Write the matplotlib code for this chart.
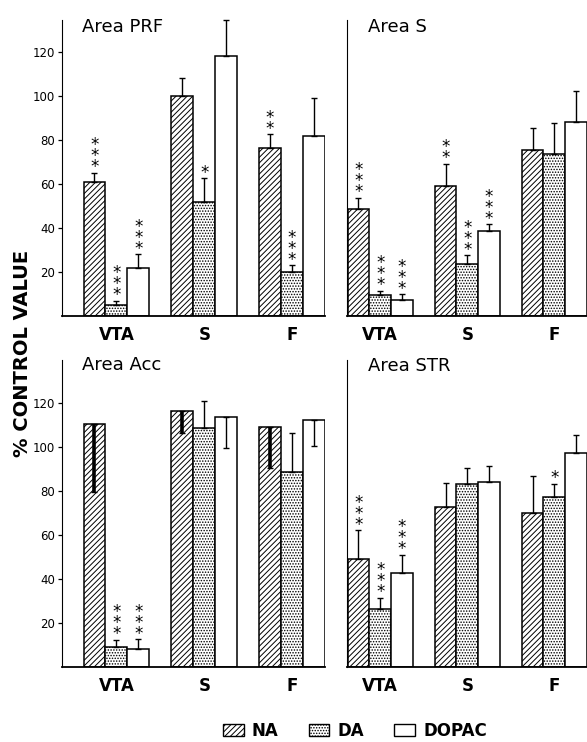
import numpy as np
import matplotlib
matplotlib.use('Agg')
import matplotlib.pyplot as plt
from matplotlib.patches import Patch

# donnees (% de la valeur controle)
groups = ['VTA', 'S', 'F']
series = ['NA', 'DA', 'DOPAC']

prf_na = [61, 100, 76.5]
prf_da = [5, 52, 20]
prf_dopac = [22, 118, 82]
prf_err_na = [4, 8, 6]
prf_err_da = [2, 10.5, 3]
prf_err_dopac = [6, 16.5, 17]
prf_stars_na = [3, 0, 2]
prf_stars_da = [3, 1, 3]
prf_stars_dopac = [3, 0, 0]

s_na = [48.6, 59.2, 75.5]
s_da = [9.5, 23.5, 73.6]
s_dopac = [7.3, 38.6, 88.3]
s_err_na = [5, 10, 10]
s_err_da = [2, 4, 14]
s_err_dopac = [2.5, 3, 14]
s_stars_na = [3, 2, 0]
s_stars_da = [3, 3, 0]
s_stars_dopac = [3, 3, 0]

# erreur negative = barre d'erreur dessinee vers le bas
acc_na = [110.6, 116.5, 109.4]
acc_da = [9.1, 108.9, 88.6]
acc_dopac = [8.2, 113.9, 112.4]
acc_err_na = [-31, -10, -19]
acc_err_da = [3.3, 12, 18]
acc_err_dopac = [4.5, -14, -12]
acc_stars_na = [0, 0, 0]
acc_stars_da = [3, 0, 0]
acc_stars_dopac = [3, 0, 0]

str_na = [49.2, 73, 70]
str_da = [26.5, 83.2, 77.5]
str_dopac = [43, 84.4, 97.5]
str_err_na = [13, 11, 17]
str_err_da = [5, 7.5, 6]
str_err_dopac = [8, 7, 8]
str_stars_na = [3, 0, 0]
str_stars_da = [3, 0, 1]
str_stars_dopac = [3, 0, 0]

yticks = [20, 40, 60, 80, 100, 120]

plt.rcParams['hatch.linewidth'] = 0.7
plt.rcParams['font.family'] = 'DejaVu Sans'

W, H = 587, 742
styles = [dict(facecolor='white', hatch='//////'),
          dict(facecolor='white', hatch='......'),
          dict(facecolor='white', hatch=None)]


def draw_panel(ax, values, errors, stars, xlim, ylim, show_ticks):
    x = np.arange(len(groups))
    width = 0.25
    for i in range(3):
        pos = x + (i - 1) * width
        ax.bar(pos, values[i], width, edgecolor='black', linewidth=1.1,
               **styles[i])
        for p, v, e, n in zip(pos, values[i], errors[i], stars[i]):
            if e >= 0:
                yerr = [[0], [e]]
                lw = 1.0
            else:
                yerr = [[-e], [0]]
                lw = 2.6 if i == 0 else 1.0
            ax.errorbar(p, v, yerr=yerr, fmt='none', ecolor='black',
                        elinewidth=lw, capsize=2.5, capthick=1.0,
                        clip_on=False)
            top = v + max(e, 0)
            if n > 0:
                # etoiles empilees verticalement (un seul texte)
                ax.text(p, top - 1.5, '\n'.join(['*'] * n), ha='center',
                        va='bottom', fontsize=12, linespacing=0.5)
    ax.set_xlim(xlim)
    ax.set_ylim(ylim)
    ax.set_xticks(x)
    ax.set_xticklabels(groups, fontsize=12, fontweight='bold')
    ax.tick_params(axis='x', length=0, pad=7)
    ax.spines['top'].set_visible(False)
    ax.spines['right'].set_visible(False)
    ax.spines['left'].set_linewidth(0.8)
    ax.spines['bottom'].set_linewidth(1.3)
    if show_ticks:
        ax.set_yticks(yticks)
        ax.set_yticklabels([str(t) for t in yticks], fontsize=8.5)
        ax.tick_params(axis='y', length=3, width=0.9, pad=2)
    else:
        ax.set_yticks([])


fig = plt.figure(figsize=(W / 100, H / 100), dpi=100)

ax1 = fig.add_axes([62 / W, 1 - 316 / H, 263 / W, 296 / H])
ax2 = fig.add_axes([347 / W, 1 - 316 / H, 240 / W, 296 / H])
ax3 = fig.add_axes([62 / W, 1 - 667.3 / H, 263 / W, 307.3 / H])
ax4 = fig.add_axes([347 / W, 1 - 667.3 / H, 240 / W, 307.3 / H])

draw_panel(ax1, [prf_na, prf_da, prf_dopac],
           [prf_err_na, prf_err_da, prf_err_dopac],
           [prf_stars_na, prf_stars_da, prf_stars_dopac],
           (-0.62, 2.375), (0, 134.5), True)
draw_panel(ax2, [s_na, s_da, s_dopac],
           [s_err_na, s_err_da, s_err_dopac],
           [s_stars_na, s_stars_da, s_stars_dopac],
           (-0.382, 2.375), (0, 134.5), False)
draw_panel(ax3, [acc_na, acc_da, acc_dopac],
           [acc_err_na, acc_err_da, acc_err_dopac],
           [acc_stars_na, acc_stars_da, acc_stars_dopac],
           (-0.62, 2.375), (0, 139.7), True)
draw_panel(ax4, [str_na, str_da, str_dopac],
           [str_err_na, str_err_da, str_err_dopac],
           [str_stars_na, str_stars_da, str_stars_dopac],
           (-0.382, 2.375), (0, 139.7), False)

# titres des panneaux
fig.text(82 / W, 1 - 32 / H, 'Area PRF', fontsize=13, va='baseline')
fig.text(368 / W, 1 - 32 / H, 'Area S', fontsize=13, va='baseline')
fig.text(82 / W, 1 - 370 / H, 'Area Acc', fontsize=13, va='baseline')
fig.text(368 / W, 1 - 371 / H, 'Area STR', fontsize=13, va='baseline')

fig.text(23 / W, 1 - 353 / H, '% CONTROL VALUE', rotation=90, ha='center',
         va='center', fontsize=14, fontweight='bold')

# legende
handles = [Patch(edgecolor='black', linewidth=1.0, **styles[i])
           for i in range(3)]
leg = fig.legend(handles, series, loc='center', ncol=3, frameon=False,
                 bbox_to_anchor=(355 / W, 1 - 731 / H),
                 handlelength=1.25, handleheight=0.75, handletextpad=0.5,
                 columnspacing=1.8, prop={'size': 12, 'weight': 'bold'})

fig.savefig('out.png', dpi=100)
